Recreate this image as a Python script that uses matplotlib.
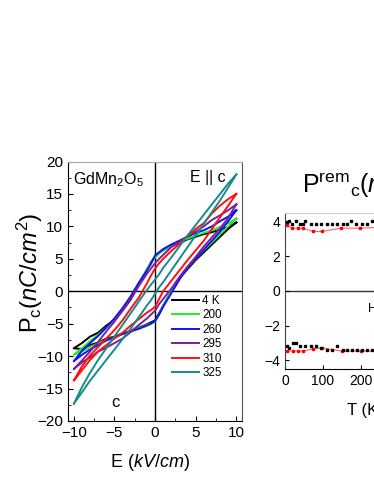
import numpy as np
import matplotlib
matplotlib.use('Agg')
import matplotlib.pyplot as plt
from matplotlib.ticker import MultipleLocator

plt.rcParams['font.family'] = ['Liberation Sans', 'DejaVu Sans']
plt.rcParams['mathtext.fontset'] = 'custom'
plt.rcParams['mathtext.rm'] = 'Liberation Sans'
plt.rcParams['mathtext.it'] = 'Liberation Sans:italic'

# E field grid (kV/cm), shared by every branch
E_grid = [-10, -9, -8, -7, -6, -5, -4, -3, -2, -1, -0.5, 0, 0.5, 1, 2, 3, 4, 5, 6, 7, 8, 9, 10]

temps = ['4 K', '200', '260', '295', '310', '325']
colors = ['#000000', '#22ee22', '#1010ff', '#7f1f9a', '#ff1010', '#178a8a']

# upper branch (sweeping down) and lower branch (sweeping up), P in nC/cm2
up_4 = [-8.8, -8.0, -7.0, -6.4, -5.3, -4.4, -3.0, -1.3, 1.0, 3.3, 4.5, 5.3, 5.9, 6.3, 7.0, 7.4, 8.0, 8.4, 8.8, 9.1, 9.5, 9.9, 10.6]
lo_4 = [-8.8, -8.9, -8.3, -7.9, -7.3, -7.0, -6.5, -6.1, -5.6, -5.1, -4.8, -4.5, -3.4, -2.2, 0.0, 2.0, 3.4, 4.8, 6.0, 7.2, 8.4, 9.6, 10.6]
up_200 = [-9.8, -8.8, -7.7, -6.7, -5.6, -4.4, -2.9, -1.0, 1.2, 3.4, 4.4, 5.2, 5.8, 6.3, 7.0, 7.6, 8.1, 8.6, 9.0, 9.4, 9.9, 10.5, 11.2]
lo_200 = [-9.8, -9.3, -8.6, -8.0, -7.5, -7.1, -6.6, -6.2, -5.7, -5.2, -5.0, -4.7, -3.6, -2.2, 0.0, 2.0, 3.6, 5.0, 6.3, 7.5, 8.8, 10.0, 11.2]
up_260 = [-10.8, -9.2, -8.0, -6.9, -5.6, -4.2, -2.6, -0.8, 1.3, 3.2, 4.2, 5.5, 6.0, 6.5, 7.2, 7.8, 8.4, 9.0, 9.4, 10.0, 10.8, 11.5, 12.5]
lo_260 = [-10.8, -9.8, -9.0, -8.3, -7.6, -7.1, -6.6, -6.2, -5.8, -5.3, -5.0, -4.6, -3.6, -2.4, -0.3, 1.8, 3.6, 5.0, 6.4, 7.8, 9.2, 10.8, 12.5]
up_295 = [-12.0, -10.7, -9.3, -7.8, -6.2, -4.7, -3.0, -1.2, 0.8, 2.7, 3.5, 4.3, 5.0, 5.6, 6.8, 7.6, 8.5, 9.2, 10.0, 11.0, 11.7, 12.5, 13.4]
lo_295 = [-12.0, -11.0, -10.2, -9.3, -8.7, -8.0, -7.3, -6.3, -5.2, -4.2, -3.6, -3.0, -2.0, -1.2, 0.4, 2.2, 3.8, 5.3, 6.9, 8.3, 9.7, 11.3, 13.4]
up_310 = [-13.8, -11.6, -9.9, -8.6, -7.3, -6.0, -4.5, -2.7, -1.0, 1.2, 2.4, 3.5, 4.3, 5.0, 6.2, 7.3, 8.5, 9.6, 10.5, 12.0, 13.2, 14.2, 15.0]
lo_310 = [-13.8, -12.2, -10.6, -9.3, -8.3, -7.3, -6.4, -5.3, -4.3, -3.3, -2.9, -2.4, -1.2, 0.0, 1.6, 3.2, 4.8, 6.3, 7.8, 9.6, 11.4, 13.2, 15.0]
up_325 = [-17.4, -14.8, -12.6, -10.6, -8.8, -7.0, -5.2, -3.4, -1.6, 0.2, 1.0, 1.8, 2.6, 3.6, 5.2, 6.9, 8.6, 10.2, 11.8, 13.4, 15.0, 16.6, 18.0]
lo_325 = [-17.4, -15.6, -13.8, -12.2, -10.6, -9.0, -7.4, -5.8, -4.0, -2.2, -1.4, -0.4, 0.6, 1.4, 3.2, 5.0, 6.8, 8.6, 10.4, 12.2, 14.0, 16.0, 18.0]

uppers = [up_4, up_200, up_260, up_295, up_310, up_325]
lowers = [lo_4, lo_200, lo_260, lo_295, lo_310, lo_325]

# remanent polarization vs T
T_pos_k = [4, 10, 18, 29, 40, 47, 54, 68, 82, 96, 110, 124, 138, 153, 164, 174, 188, 203, 217, 231, 245]
P_pos_k = [3.96, 4.0, 3.85, 4.0, 3.85, 3.85, 4.0, 3.84, 3.84, 3.84, 3.84, 3.84, 3.84, 3.84, 3.84, 4.0, 3.84, 3.84, 3.84, 4.0, 3.84]
T_pos_r = [5, 18, 35, 48, 73, 98, 148, 199, 250]
P_pos_r = [3.82, 3.61, 3.61, 3.61, 3.42, 3.42, 3.61, 3.61, 3.65]
T_neg_k = [4, 10, 22, 29, 40, 54, 68, 82, 96, 110, 124, 138, 153, 164, 178, 190, 203, 217, 231, 245]
P_neg_k = [-3.19, -3.28, -3.0, -3.0, -3.19, -3.19, -3.19, -3.19, -3.28, -3.38, -3.38, -3.19, -3.38, -3.38, -3.38, -3.38, -3.38, -3.38, -3.38, -3.38]
T_neg_r = [5, 20, 35, 48, 75, 98, 150, 200, 250]
P_neg_r = [-3.47, -3.47, -3.47, -3.47, -3.34, -3.28, -3.47, -3.47, -3.47]

W, H = 374, 484
fig = plt.figure(figsize=(W / 100, H / 100), dpi=100)

# ---- left panel: hysteresis loops
ax = fig.add_axes([68 / W, 1 - 421 / H, 174 / W, 259.5 / H])
E = np.array(E_grid)
for up, lo, lab, c in zip(uppers, lowers, temps, colors):
    x = np.concatenate([E[::-1], E])
    y = np.concatenate([np.array(up)[::-1], np.array(lo)])
    ax.plot(x, y, color=c, lw=1.4, label=lab)

ax.axhline(0, color='k', lw=1.0, zorder=0)
ax.axvline(0, color='k', lw=1.0, zorder=0)
ax.set_xlim(-10.7, 10.7)
ax.set_ylim(-20, 20)
ax.xaxis.set_major_locator(MultipleLocator(5))
ax.xaxis.set_minor_locator(MultipleLocator(2.5))
ax.yaxis.set_major_locator(MultipleLocator(5))
ax.yaxis.set_minor_locator(MultipleLocator(2.5))
ax.tick_params(which='both', direction='in', labelsize=11, top=False, right=False)
ax.tick_params(which='major', length=3.5)
ax.tick_params(which='minor', length=2)
ax.spines['top'].set_color('#aaaaaa')
ax.spines['right'].set_color('#555555')

ax.set_ylabel(r'P$_\mathrm{c}$$\mathit{(nC/cm^2)}$', fontsize=17)
ax.yaxis.set_label_coords(-0.135, 0.57)
ax.set_xlabel(r'E $\mathit{(kV/cm)}$', fontsize=13)
ax.xaxis.set_label_coords(0.47, -0.12)

ax.text(0.03, 0.93, r'GdMn$_2$O$_5$', transform=ax.transAxes, fontsize=11.5, va='center')
ax.text(0.70, 0.94, 'E || c', transform=ax.transAxes, fontsize=11.5, va='center')
ax.text(0.25, 0.07, 'c', transform=ax.transAxes, fontsize=12, va='center')

ax.legend(loc='upper left', bbox_to_anchor=(0.60, 0.487), frameon=False, fontsize=8.4,
          handlelength=2.3, handletextpad=0.25, labelspacing=0.22, borderpad=0, borderaxespad=0)

# ---- right panel: remanent polarization (extends past the figure edge)
ax2 = fig.add_axes([285 / W, 1 - 369 / H, 132.3 / W, 156.3 / H])
ax2.plot(T_pos_r, P_pos_r, color='#ff6060', lw=0.8, zorder=1)
ax2.plot(T_neg_r, P_neg_r, color='#ff6060', lw=0.8, zorder=1)
ax2.plot(T_pos_r, P_pos_r, 's', color='red', ms=2.1, zorder=2)
ax2.plot(T_neg_r, P_neg_r, 's', color='red', ms=2.1, zorder=2)
ax2.plot(T_pos_k, P_pos_k, 's', color='black', ms=2.1, zorder=3)
ax2.plot(T_neg_k, P_neg_k, 's', color='black', ms=2.1, zorder=3)
ax2.axhline(0, color='#333333', lw=1.0, zorder=0)
ax2.set_xlim(0, 350)
ax2.set_ylim(-4.5, 4.5)
ax2.set_xticks([0, 100, 200])
ax2.set_yticks([-4, -2, 0, 2, 4])
ax2.tick_params(direction='in', labelsize=10, length=3, top=False, right=False)
ax2.spines['top'].set_color('#cccccc')
ax2.spines['left'].set_color('#444444')

fig.text(302 / W, 1 - 193 / H, r'P$^\mathrm{rem}$$_\mathrm{c}$$\mathit{(nC/cm^2)}$', fontsize=18, va='baseline')
fig.text(368 / W, 1 - 309 / H, 'H', fontsize=9, va='center')
fig.text(347 / W, 1 - 410 / H, 'T (K)', fontsize=12, va='center')

fig.savefig('out.png', dpi=100)
